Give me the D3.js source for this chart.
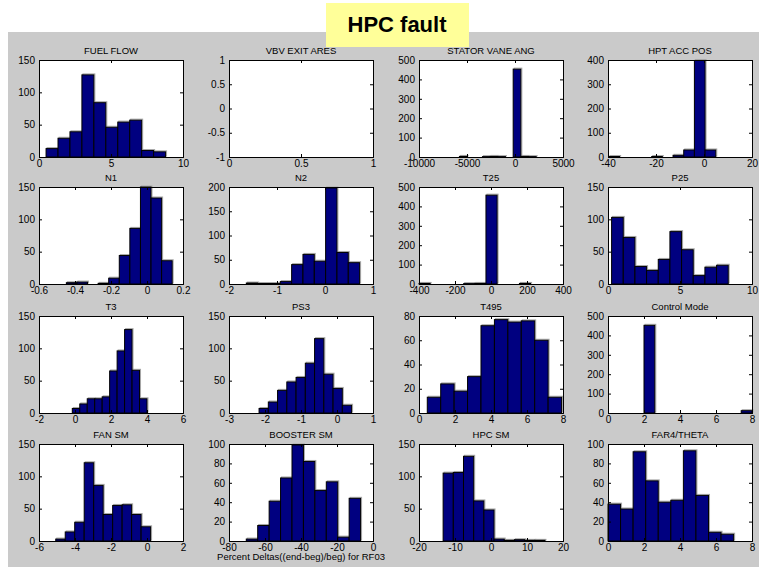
<!DOCTYPE html>
<html>
<head>
<meta charset="utf-8">
<script src="https://d3js.org/d3.v7.min.js"></script>
<style>
  body { margin:0; background:#ffffff; }
  text { font-family: "Liberation Sans", Arial, sans-serif; }
</style>
</head>
<body>
<div id="chartDIV"></div>
<script>
// one entry per panel, in reading order (4 x 4)
var panelTitles = ["FUEL FLOW","VBV EXIT ARES","STATOR VANE ANG","HPT ACC POS",
  "N1","N2","T25","P25",
  "T3","PS3","T495","Control Mode",
  "FAN SM","BOOSTER SM","HPC SM","FAR4/THETA"];

// histogram counts, 10 bins each (VBV has no data)
var fuelFlow    = [13,29,39,127,84,46,54,57,10,8];
var vbvExit     = [];
var statorVane  = [3,0,0,2,3,2,0,453,3,2];
var hptAccPos   = [2,0,0,0,2,0,7,29,398,29];
var n1          = [2,3,0,1,9,44,86,150,133,36];
var n2          = [2,1,1,5,40,61,47,198,65,44];
var t25         = [3,0,0,0,2,3,458,0,0,3];
var p25         = [103,72,27,21,38,81,53,13,26,29];
var t3          = [7,14,22,22,25,65,96,129,66,22];
var ps3         = [7,17,35,48,55,77,115,60,38,12];
var t495        = [13,24,18,30,72,77,75,76,60,13];
var controlMode = [452,0,0,0,0,0,0,0,0,12];
var fanSM       = [3,14,29,121,86,41,55,56,41,22];
var boosterSM   = [2,16,41,65,99,82,52,61,4,44];
var hpcSM       = [105,106,131,62,48,3,1,2,1,1];
var far4Theta   = [38,33,92,62,40,42,93,47,9,7];

var panelCounts = [fuelFlow,vbvExit,statorVane,hptAccPos,n1,n2,t25,p25,
  t3,ps3,t495,controlMode,fanSM,boosterSM,hpcSM,far4Theta];

// left edge of first bin and bin width (data units)
var binStart = [0.49,0,-5790,-39.6, -0.448,-1.639,-400,0.25,
  -0.15,-2.165,0.46,2, -5.07,-70.4,-13.3,0];
var binWidth = [0.83,0,800,4.45, 0.0588,0.236,62,0.81,
  0.415,0.257,0.746,0.6, 0.527,6.35,2.83,0.698];

// axis limits
var xDomains = [[0,10],[0,1],[-10000,5000],[-40,20],
  [-0.6,0.2],[-2,1],[-400,400],[0,10],
  [-2,6],[-3,1],[0,8],[0,8],
  [-6,2],[-80,0],[-20,20],[0,8]];
var yDomains = [[0,150],[-1,1],[0,500],[0,400],
  [0,150],[0,200],[0,500],[0,150],
  [0,150],[0,150],[0,80],[0,500],
  [0,150],[0,100],[0,150],[0,100]];

// tick labels
var xTicks = [[0,5,10],[0,0.5,1],[-10000,-5000,0,5000],[-40,-20,0,20],
  [-0.6,-0.4,-0.2,0,0.2],[-2,-1,0,1],[-400,-200,0,200,400],[0,5,10],
  [-2,0,2,4,6],[-3,-2,-1,0,1],[0,2,4,6,8],[0,2,4,6,8],
  [-6,-4,-2,0,2],[-80,-60,-40,-20,0],[-20,-10,0,10,20],[0,2,4,6,8]];
var yTicks = [[0,50,100,150],[-1,-0.5,0,0.5,1],[0,100,200,300,400,500],[0,100,200,300,400],
  [0,50,100,150],[0,50,100,150,200],[0,100,200,300,400,500],[0,50,100,150],
  [0,50,100,150],[0,50,100,150],[0,20,40,60,80],[0,100,200,300,400,500],
  [0,50,100,150],[0,20,40,60,80,100],[0,50,100,150],[0,20,40,60,80,100]];

var figureTitle = "HPC fault";
var xLabel = "Percent Deltas((end-beg)/beg) for RF03";

var W = 759, H = 567;
var colLeft = [39,229,419,608];
var rowTop = [60,187,316,444];
var plotW = 144, plotH = 97;

var svg = d3.select("#chartDIV")
  .append("svg")
  .attr("width",W)
  .attr("height",H);

// grey figure background
svg.append("rect")
  .attr("x",8).attr("y",32)
  .attr("width",W-8).attr("height",H-32)
  .attr("fill","#cacaca");

var tickFmt = function(d) { return String(d); };

panelTitles.forEach(function(title,i) {
  var col = i % 4, row = Math.floor(i/4);
  var g = svg.append("g")
    .attr("transform","translate(" + colLeft[col] + "," + rowTop[row] + ")");

  var x = d3.scaleLinear().domain(xDomains[i]).range([0,plotW]);
  var y = d3.scaleLinear().domain(yDomains[i]).range([plotH,0]);

  g.append("rect")
    .attr("width",plotW).attr("height",plotH)
    .attr("fill","#ffffff");

  var bins = panelCounts[i].map(function(c,k) {
    return {x0: binStart[i] + k*binWidth[i], x1: binStart[i] + (k+1)*binWidth[i], n: c};
  });

  // faint grey edge that the old matlab render leaves on top/right of bars
  g.selectAll(".shade")
    .data(bins)
    .enter()
    .append("rect")
    .attr("class","shade")
    .attr("x",function(d) { return x(d.x0) + 1; })
    .attr("y",function(d) { return y(d.n) - 1; })
    .attr("width",function(d) { return x(d.x1) - x(d.x0); })
    .attr("height",function(d) { return y(0) - y(d.n); })
    .attr("fill","none")
    .attr("stroke","#a8a8a8")
    .attr("stroke-width",1);

  // bars
  g.selectAll(".bar")
    .data(bins)
    .enter()
    .append("rect")
    .attr("class","bar")
    .attr("x",function(d) { return x(d.x0); })
    .attr("y",function(d) { return y(d.n); })
    .attr("width",function(d) { return x(d.x1) - x(d.x0); })
    .attr("height",function(d) { return y(0) - y(d.n); })
    .attr("fill","#000080")
    .attr("stroke","#000000")
    .attr("stroke-width",1);

  // axes, ticks pointing inward like matlab
  var ax = [
    {axis:d3.axisBottom(x).tickValues(xTicks[i]).tickSize(-3).tickPadding(3), t:[0,plotH], lab:true},
    {axis:d3.axisTop(x).tickValues(xTicks[i]).tickSize(-3), t:[0,0], lab:false},
    {axis:d3.axisLeft(y).tickValues(yTicks[i]).tickSize(-3).tickPadding(4), t:[0,0], lab:true},
    {axis:d3.axisRight(y).tickValues(yTicks[i]).tickSize(-3), t:[plotW,0], lab:false}
  ];
  ax.forEach(function(a) {
    var ag = g.append("g")
      .attr("transform","translate(" + a.t[0] + "," + a.t[1] + ")")
      .call(a.axis.tickFormat(a.lab ? tickFmt : ""));
    ag.select(".domain").attr("stroke","#000000");
    ag.selectAll(".tick line").attr("stroke","#000000");
    ag.selectAll("text")
      .style("font-size","10px")
      .attr("fill","#000000");
  });

  g.append("text")
    .attr("x",plotW/2)
    .attr("y",-6.5)
    .attr("text-anchor","middle")
    .style("font-size","9.5px")
    .text(title);

  if (i == 13) {
    g.append("text")
      .attr("x",plotW/2)
      .attr("y",plotH + 19)
      .attr("text-anchor","middle")
      .style("font-size","9.5px")
      .text(xLabel);
  }
});

// yellow title box on top
svg.append("rect")
  .attr("x",326).attr("y",3)
  .attr("width",143).attr("height",44)
  .attr("fill","#ffff99");
svg.append("text")
  .attr("x",397)
  .attr("y",32)
  .attr("text-anchor","middle")
  .style("font-size","22px")
  .style("font-weight","bold")
  .text(figureTitle);
</script>
</body>
</html>
